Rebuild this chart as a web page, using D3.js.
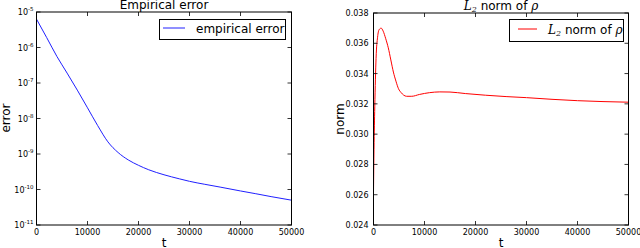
<!DOCTYPE html>
<html><head><meta charset="utf-8">
<script src="https://cdn.jsdelivr.net/npm/d3@7"></script>
<style>
body{margin:0;background:#fff;}
svg{display:block;font-family:"DejaVu Sans",sans-serif;}
</style></head>
<body><svg id="c" width="640" height="248"></svg>
<script>
// Left panel: empirical error (log scale)
const errT = [0,2000,4000,6000,8000,10000,12000,14000,16000,18000,20000,22000,25000,28000,30000,33000,36000,40000,43000,46000,50000];
const errV = [6.3e-6,1.9e-6,5.6e-7,1.9e-7,6.3e-8,2.0e-8,6.3e-9,2.2e-9,1.1e-9,6.8e-10,4.8e-10,3.6e-10,2.6e-10,2.0e-10,1.7e-10,1.4e-10,1.17e-10,9.1e-11,7.6e-11,6.3e-11,5.0e-11];
// Right panel: L2 norm of rho
const normT = [0,100,250,500,800,1100,1500,1900,2400,2900,3400,3900,4400,4900,5400,5900,6500,7500,9000,11000,13000,15000,18000,22000,26000,30000,35000,40000,45000,50000];
const normV = [0.0262,0.0290,0.0318,0.0350,0.0364,0.0369,0.0370,0.0368,0.0363,0.0357,0.0349,0.0341,0.0335,0.0330,0.03275,0.03258,0.03250,0.03250,0.03262,0.03274,0.03279,0.03278,0.03268,0.03257,0.03248,0.03241,0.03230,0.03221,0.03215,0.03211];
const xTicks = [0,10000,20000,30000,40000,50000];
const errExp = [-5,-6,-7,-8,-9,-10,-11];
const normTicks = [0.024,0.026,0.028,0.030,0.032,0.034,0.036,0.038];

const svg = d3.select("#c");

function frame(g, x, y, L, R, T, B){
  // top/bottom x ticks inward
  xTicks.forEach(v=>{
    g.append("line").attr("x1",x(v)).attr("x2",x(v)).attr("y1",B).attr("y2",B-4).attr("stroke","#000").attr("stroke-width",0.8);
    g.append("line").attr("x1",x(v)).attr("x2",x(v)).attr("y1",T).attr("y2",T+4).attr("stroke","#000").attr("stroke-width",0.8);
    g.append("text").attr("x",x(v)).attr("y",B+10).attr("text-anchor","middle").attr("font-size",8).text(v);
  });
  g.append("rect").attr("x",L).attr("y",T).attr("width",R-L).attr("height",B-T).attr("fill","none").attr("stroke","#000").attr("stroke-width",1);
}

// ---------- Left ----------
{
  const L=36.5,R=291.5,T=12,B=225;
  const x=d3.scaleLinear().domain([0,50000]).range([L,R]);
  const y=d3.scaleLog().domain([1e-11,1e-5]).range([B,T]);
  const g=svg.append("g");
  const line=d3.line().x((d,i)=>x(errT[i])).y(d=>y(d)).curve(d3.curveMonotoneX);
  g.append("path").attr("d",line(errV)).attr("fill","none").attr("stroke","#2020ff").attr("stroke-width",1);
  errExp.forEach(e=>{
    const v=Math.pow(10,e);
    g.append("line").attr("x1",L).attr("x2",L+4).attr("y1",y(v)).attr("y2",y(v)).attr("stroke","#000").attr("stroke-width",0.8);
    g.append("line").attr("x1",R).attr("x2",R-4).attr("y1",y(v)).attr("y2",y(v)).attr("stroke","#000").attr("stroke-width",0.8);
    const t=g.append("text").attr("x",L-3).attr("y",y(v)+3).attr("text-anchor","end").attr("font-size",8);
    t.append("tspan").text("10");
    t.append("tspan").attr("dy",-4).attr("font-size",5.5).text(e);
  });
  frame(g,x,y,L,R,T,B);
  g.append("text").attr("x",(L+R)/2).attr("y",9).attr("text-anchor","middle").attr("font-size",12).text("Empirical error");
  g.append("text").attr("transform","translate(10,118) rotate(-90)").attr("text-anchor","middle").attr("font-size",12).text("error");
  g.append("text").attr("x",(L+R)/2).attr("y",247).attr("text-anchor","middle").attr("font-size",12).text("t");
  // legend
  g.append("rect").attr("x",159.5).attr("y",19.5).attr("width",126).attr("height",20).attr("fill","#fff").attr("stroke","#000").attr("stroke-width",1);
  g.append("line").attr("x1",163).attr("x2",185).attr("y1",28).attr("y2",28).attr("stroke","#2020ff").attr("stroke-width",1);
  g.append("text").attr("x",196).attr("y",33).attr("font-size",12).text("empirical error");
}

// ---------- Right ----------
{
  const L=373.5,R=628.5,T=13,B=225;
  const x=d3.scaleLinear().domain([0,50000]).range([L,R]);
  const y=d3.scaleLinear().domain([0.024,0.038]).range([B,T]);
  const g=svg.append("g");
  const line=d3.line().x((d,i)=>x(normT[i])).y(d=>y(d)).curve(d3.curveMonotoneX);
  g.append("path").attr("d",line(normV)).attr("fill","none").attr("stroke","#ff0000").attr("stroke-width",1);
  normTicks.forEach(v=>{
    g.append("line").attr("x1",L).attr("x2",L+4).attr("y1",y(v)).attr("y2",y(v)).attr("stroke","#000").attr("stroke-width",0.8);
    g.append("line").attr("x1",R).attr("x2",R-4).attr("y1",y(v)).attr("y2",y(v)).attr("stroke","#000").attr("stroke-width",0.8);
    g.append("text").attr("x",L-5).attr("y",y(v)+3).attr("text-anchor","end").attr("font-size",8).text(d3.format(".3f")(v));
  });
  frame(g,x,y,L,R,T,B);
  const tt=g.append("text").attr("x",(L+R)/2).attr("y",10).attr("text-anchor","middle").attr("font-size",12);
  tt.append("tspan").attr("font-family","DejaVu Serif").attr("font-style","italic").text("L");
  tt.append("tspan").attr("font-family","DejaVu Serif").attr("font-style","italic").attr("font-size",8).attr("dy",2).text("2");
  tt.append("tspan").attr("dy",-2).text(" norm of ");
  tt.append("tspan").attr("font-family","DejaVu Serif").attr("font-style","italic").text("ρ");
  g.append("text").attr("transform","translate(344,119) rotate(-90)").attr("text-anchor","middle").attr("font-size",12).text("norm");
  g.append("text").attr("x",(L+R)/2).attr("y",247).attr("text-anchor","middle").attr("font-size",12).text("t");
  g.append("rect").attr("x",509.5).attr("y",19.5).attr("width",114).attr("height",22).attr("fill","#fff").attr("stroke","#000").attr("stroke-width",1);
  g.append("line").attr("x1",518).attr("x2",537).attr("y1",29).attr("y2",29).attr("stroke","#ff0000").attr("stroke-width",1);
  const lt=g.append("text").attr("x",548).attr("y",34).attr("font-size",12);
  lt.append("tspan").attr("font-family","DejaVu Serif").attr("font-style","italic").text("L");
  lt.append("tspan").attr("font-family","DejaVu Serif").attr("font-style","italic").attr("font-size",8).attr("dy",2).text("2");
  lt.append("tspan").attr("dy",-2).text(" norm of ");
  lt.append("tspan").attr("font-family","DejaVu Serif").attr("font-style","italic").text("ρ");
}
</script></body></html>
